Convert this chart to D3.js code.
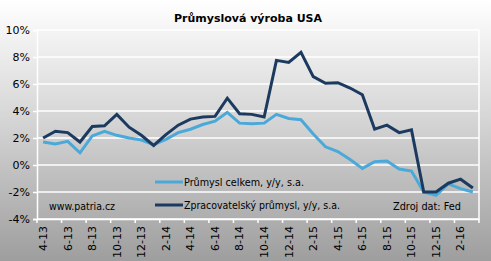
<!DOCTYPE html>
<html><head><meta charset="utf-8">
<script src="https://cdn.jsdelivr.net/npm/d3@7"></script>
<style>body{margin:0;padding:0;overflow:hidden}svg{display:block}</style>
</head><body>
<svg id="c" width="491" height="261"></svg>
<script>
const categories = ["4-13","5-13","6-13","7-13","8-13","9-13","10-13","11-13","12-13","1-14","2-14","3-14","4-14","5-14","6-14","7-14","8-14","9-14","10-14","11-14","12-14","1-15","2-15","3-15","4-15","5-15","6-15","7-15","8-15","9-15","10-15","11-15","12-15","1-16","2-16","3-16"];
const industryTotal = [1.7,1.55,1.75,0.9,2.15,2.5,2.2,2.0,1.85,1.5,1.9,2.4,2.65,3.0,3.25,3.9,3.1,3.05,3.1,3.75,3.45,3.35,2.3,1.35,1.0,0.4,-0.25,0.25,0.3,-0.3,-0.45,-2.0,-2.25,-1.4,-1.75,-2.0];
const manufacturing = [2.0,2.5,2.4,1.7,2.85,2.9,3.75,2.8,2.2,1.45,2.25,2.95,3.4,3.55,3.6,4.95,3.8,3.75,3.55,7.75,7.6,8.35,6.55,6.05,6.1,5.7,5.2,2.65,2.95,2.4,2.6,-2.0,-2.0,-1.35,-1.05,-1.7];
const yTicks = [-4,-2,0,2,4,6,8,10];
const title = "Průmyslová výroba USA";
const seriesNames = ["Průmysl celkem, y/y, s.a.", "Zpracovatelský průmysl, y/y, s.a."];

const svg = d3.select("#c");
const W = 491, H = 261;
const defs = svg.append("defs");
const g = defs.append("linearGradient").attr("id","bg").attr("x1",0).attr("y1",0).attr("x2",0).attr("y2",1);
g.append("stop").attr("offset","0%").attr("stop-color","#ffffff");
g.append("stop").attr("offset","45%").attr("stop-color","#d6d6d6");
g.append("stop").attr("offset","100%").attr("stop-color","#9e9e9e");
svg.append("rect").attr("width",W).attr("height",H).attr("fill","url(#bg)");

const L = 37, R = 479, T = 30, B = 219;
const x = d3.scaleBand().domain(categories).range([L, R]).padding(0);
const y = d3.scaleLinear().domain([-4, 10]).range([B, T]);
const font = "DejaVu Sans, Verdana, sans-serif";

// title
svg.append("text").attr("x", 248).attr("y", 22).attr("text-anchor","middle")
  .attr("font-family", font).attr("font-weight","bold").attr("font-size", 11).attr("fill","#000").text(title);

// grid
svg.append("g").selectAll("line").data(yTicks).join("line")
  .attr("x1", L).attr("x2", R).attr("y1", d => y(d)).attr("y2", d => y(d))
  .attr("stroke", "#ffffff").attr("stroke-width", 1.5);
svg.append("line").attr("x1", R).attr("x2", R).attr("y1", T).attr("y2", B).attr("stroke","#fff").attr("stroke-width",1.5);

// y axis
const yAx = svg.append("g").attr("transform", `translate(${L},0)`)
  .call(d3.axisLeft(y).tickValues(yTicks).tickFormat(d => d + "%").tickSize(4).tickPadding(3));
yAx.select(".domain").attr("stroke","#fff").attr("stroke-width",1.5);
yAx.selectAll(".tick line").attr("stroke","#fff").attr("stroke-width",1.5);
yAx.selectAll("text").attr("font-family", font).attr("font-size", 11).attr("fill","#000");

// x axis
const tickCats = categories.filter((d,i) => i % 2 === 0);
const xAx = svg.append("g").attr("transform", `translate(0,${B})`)
  .call(d3.axisBottom(x).tickValues(tickCats).tickSize(0).tickSizeOuter(0));
xAx.select(".domain").attr("stroke","#fff").attr("stroke-width",1.5);
xAx.selectAll(".tick text")
  .attr("font-family", font).attr("font-size", 11).attr("fill","#000")
  .attr("text-anchor","end").attr("dy","0.35em")
  .attr("transform","translate(0,7) rotate(-90)").attr("x",0).attr("y",0);
// tick marks between categories, every 2
const tickPos = d3.range(0, categories.length + 1, 2).map(i => L + i * x.step());
svg.append("g").selectAll("line").data(tickPos).join("line")
  .attr("x1", d => d).attr("x2", d => d).attr("y1", B).attr("y2", B + 4)
  .attr("stroke","#fff").attr("stroke-width",1.5);

// lines
const line = d3.line().x((d,i) => x(categories[i]) + x.bandwidth()/2).y(d => y(d));
const colors = ["#4ba9d9", "#1c3a60"];
svg.append("path").datum(industryTotal).attr("d", line).attr("fill","none")
  .attr("stroke", colors[0]).attr("stroke-width", 3).attr("stroke-linejoin","miter");
svg.append("path").datum(manufacturing).attr("d", line).attr("fill","none")
  .attr("stroke", colors[1]).attr("stroke-width", 3).attr("stroke-linejoin","miter");

// legend
const leg = [{y:182, name:seriesNames[0], c:colors[0], w:120},{y:205, name:seriesNames[1], c:colors[1], w:156}];
leg.forEach(l => {
  svg.append("line").attr("x1",155).attr("x2",183).attr("y1",l.y).attr("y2",l.y).attr("stroke",l.c).attr("stroke-width",3);
  svg.append("text").attr("x",184).attr("y",l.y+3.5).attr("font-family",font).attr("font-size",10)
    .attr("textLength", l.w).attr("lengthAdjust","spacingAndGlyphs").attr("fill","#000").text(l.name);
});
svg.append("text").attr("x",49).attr("y",210).attr("font-family",font).attr("font-size",10)
  .attr("textLength",66).attr("lengthAdjust","spacingAndGlyphs").attr("fill","#000").text("www.patria.cz");
svg.append("text").attr("x",393).attr("y",210).attr("font-family",font).attr("font-size",10)
  .attr("textLength",68).attr("lengthAdjust","spacingAndGlyphs").attr("fill","#000").text("Zdroj dat: Fed");
</script>
</body></html>
